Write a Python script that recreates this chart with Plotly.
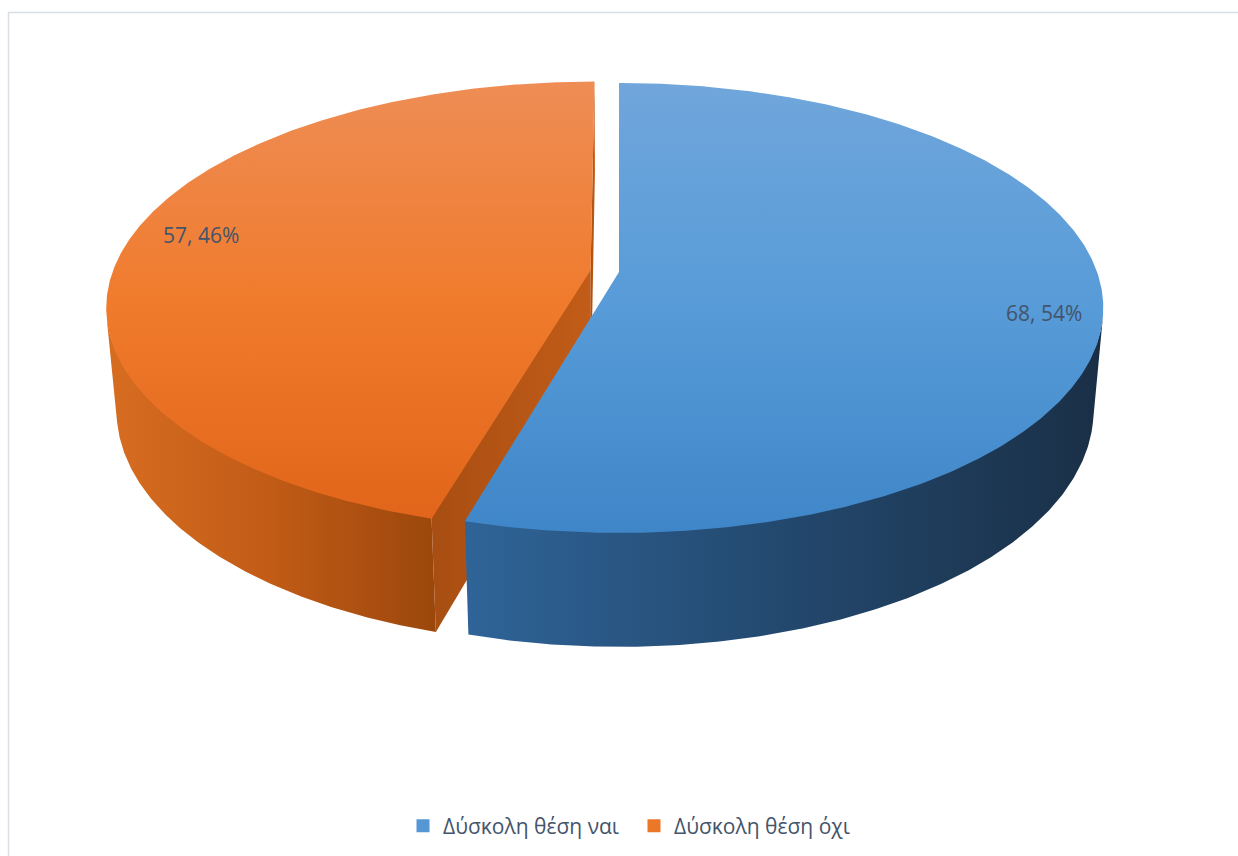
import numpy as np
import plotly.graph_objects as go

# ---- data -------------------------------------------------------------
labels = ["Δύσκολη θέση ναι", "Δύσκολη θέση όχι"]
values = [68, 57]
explode = [0.0, 0.06]          # fraction of radius each slice is pulled out

# ---- styling ----------------------------------------------------------
top_colors = [
    [[0, "#70a6db"], [0.5, "#579bd8"], [1, "#3f86c8"]],
    [[0, "#ee8d55"], [0.5, "#f07b2d"], [1, "#e1651a"]],
]
side_colors = [
    [[0, "#2f6498"], [0.45, "#244b72"], [1, "#1a2f46"]],
    [[0, "#d76d21"], [0.5, "#c15b16"], [1, "#9b470c"]],
]
cut_colors = [
    [[0, "#2b5c8c"], [1, "#2b5c8c"]],
    [[0, "#a84e12"], [1, "#c25c18"]],
]
legend_colors = ["#5596d4", "#ec7729"]
text_color = "#44546a"
font_family = "Open Sans, Noto Sans, DejaVu Sans, sans-serif"

W, H = 1238, 856

# ---- simple perspective camera for the 3-D pie -------------------------
CX, CY = 619, 272
ELEV = np.radians(27.3)
DIST = 5.57
FOCAL = 2663
THICK = 0.243
EPS = 0.004


def project(x, y, z):
    """Project pie-space points (radius 1, y away from viewer, z up) to pixels."""
    x, y, z = np.asarray(x, float), np.asarray(y, float), np.asarray(z, float)
    yc = y * np.sin(ELEV) + z * np.cos(ELEV)
    depth = DIST + y * np.cos(ELEV) - z * np.sin(ELEV)
    return CX + FOCAL * x / depth, CY - FOCAL * yc / depth


CAM = np.array([0.0, -DIST * np.cos(ELEV), DIST * np.sin(ELEV)])

total = sum(values)
shares = [v / total for v in values]

slices = []
start = 90.0
for i, v in enumerate(values):
    a0 = start
    a1 = a0 - 360.0 * shares[i]
    start = a1
    mid = np.radians((a0 + a1) / 2)
    ox, oy = explode[i] * np.cos(mid), explode[i] * np.sin(mid)
    slices.append(dict(i=i, a0=a0, a1=a1, mid=mid, ox=ox, oy=oy))

# far slices first
order = sorted(slices, key=lambda s: -(np.sin(s["mid"]) + s["oy"]))

fig = go.Figure()


def add_poly(xs, ys, scale, orient):
    xs, ys = np.asarray(xs), np.asarray(ys)
    if orient == "vertical":
        lo, hi = float(ys.min()), float(ys.max())
    else:
        lo, hi = float(xs.min()), float(xs.max())
    fig.add_trace(go.Scatter(
        x=np.append(xs, xs[0]), y=np.append(ys, ys[0]),
        mode="lines", line=dict(width=0), fill="toself",
        fillgradient=dict(type=orient, colorscale=scale, start=lo, stop=hi),
        hoverinfo="skip", showlegend=False,
    ))


for s in order:
    i, ox, oy = s["i"], s["ox"], s["oy"]
    th = np.radians(np.linspace(s["a0"], s["a1"], 400))

    # outer wall: only the part that faces the camera
    facing = (-ox * np.cos(th) - oy * np.sin(th) - 1
              - DIST * np.cos(ELEV) * np.sin(th)) > 0
    if facing.any():
        tw = th[facing]
        rx, ry = ox + np.cos(tw), oy + np.sin(tw)
        tx, ty = project(rx, ry, np.full_like(rx, EPS))
        bx, by = project(rx, ry, np.full_like(rx, -THICK))
        add_poly(np.concatenate([tx, bx[::-1]]),
                 np.concatenate([ty, by[::-1]]), side_colors[i], "horizontal")

    # radial cut faces
    for ang, normal in ((s["a0"], s["a0"] + 90), (s["a1"], s["a1"] - 90)):
        nb = np.radians(normal)
        n = np.array([np.cos(nb), np.sin(nb), 0.0])
        if n @ (CAM - np.array([ox, oy, 0.0])) > 1e-9:
            a = np.radians(ang)
            px = [ox, ox + np.cos(a), ox + np.cos(a), ox]
            py = [oy, oy + np.sin(a), oy + np.sin(a), oy]
            pz = [EPS, EPS, -THICK, -THICK]
            fx, fy = project(px, py, pz)
            add_poly(fx, fy, cut_colors[i], "horizontal")

    # top face
    rx = np.concatenate([[ox], ox + np.cos(th)])
    ry = np.concatenate([[oy], oy + np.sin(th)])
    fx, fy = project(rx, ry, np.zeros_like(rx))
    add_poly(fx, fy, top_colors[i], "vertical")

# legend entries
for i, name in enumerate(labels):
    fig.add_trace(go.Scatter(
        x=[None], y=[None], mode="markers", name=name,
        marker=dict(symbol="square", size=13, color=legend_colors[i]),
    ))

# data labels: "value, percent"
label_r = [0.88, 0.84]
label_dy = [14, -10]
annotations = []
for s in slices:
    i = s["i"]
    lx, ly = project(s["ox"] + label_r[i] * np.cos(s["mid"]),
                     s["oy"] + label_r[i] * np.sin(s["mid"]), 0.0)
    annotations.append(dict(
        x=float(lx), y=float(ly) + label_dy[i], xref="x", yref="y",
        text=f"{values[i]}, {round(100 * shares[i])}%", showarrow=False,
        font=dict(size=21, color=text_color, family=font_family),
    ))

fig.update_layout(
    width=W, height=H,
    margin=dict(l=0, r=0, t=0, b=0),
    paper_bgcolor="white", plot_bgcolor="white",
    xaxis=dict(range=[0, W], visible=False, fixedrange=True),
    yaxis=dict(range=[H, 0], visible=False, fixedrange=True),
    showlegend=True,
    legend=dict(
        orientation="h", x=0.5 + 15 / W, xanchor="center",
        y=1 - 826 / H, yanchor="middle",
        font=dict(size=21, color=text_color, family=font_family),
        bgcolor="rgba(0,0,0,0)", entrywidth=186, entrywidthmode="pixels",
    ),
    annotations=annotations,
    shapes=[dict(
        type="rect", xref="paper", yref="paper",
        x0=8.5 / W, x1=1.02, y0=-0.02, y1=1 - 12.5 / H,
        line=dict(color="#d9dee5", width=1.5), fillcolor="rgba(0,0,0,0)",
        layer="below",
    )],
)

fig.write_html("out.html")
